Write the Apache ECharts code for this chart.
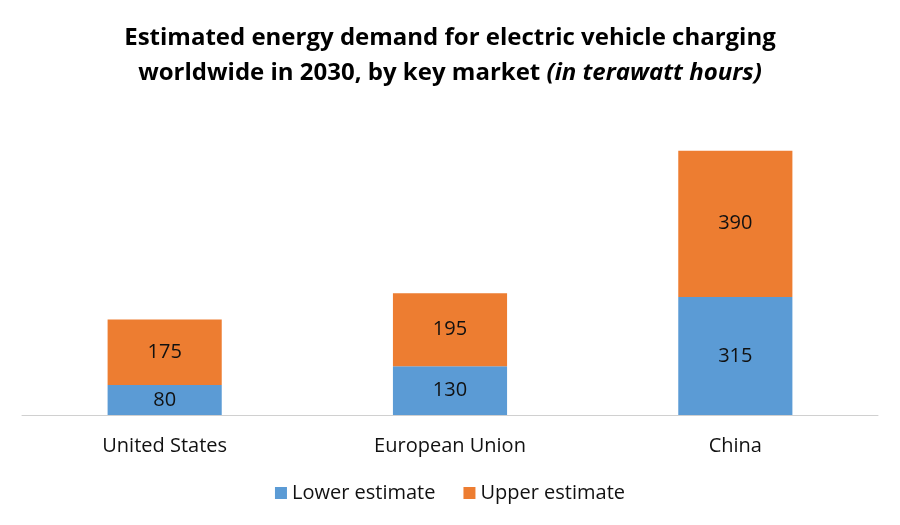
<!DOCTYPE html>
<html><head><meta charset="utf-8">
<script src="https://cdn.jsdelivr.net/npm/echarts@6/dist/echarts.min.js"></script>
<style>html,body{margin:0;padding:0;background:#fff}#c{width:900px;height:525px}</style>
</head><body><div id="c"></div>
<script>
const categories = ['United States', 'European Union', 'China'];
const lowerEstimate = [80, 130, 315];
const upperEstimate = [175, 195, 390];
const seriesNames = ['Lower estimate', 'Upper estimate'];

const FONT = '"Open Sans", "Noto Sans", sans-serif';
const chart = echarts.init(document.getElementById('c'));
chart.setOption({
  backgroundColor: '#fff',
  animation: false,
  textStyle: { fontFamily: FONT },
  title: {
    left: 'center', top: 16,
    text: '{b|Estimated energy demand for electric vehicle charging}\n{b|worldwide in 2030, by key market }{i|(in terawatt hours)}',
    textStyle: {
      rich: {
        b: { fontFamily: FONT, fontWeight: 'bold', fontSize: 24, color: '#000', lineHeight: 35 },
        i: { fontFamily: FONT, fontWeight: 'bold', fontStyle: 'italic', fontSize: 24, color: '#000', lineHeight: 35 }
      }
    }
  },
  legend: {
    bottom: 17, left: 'center',
    itemWidth: 12, itemHeight: 12, itemGap: 28,
    icon: 'rect',
    textStyle: { fontFamily: FONT, fontSize: 20, color: '#111' },
    data: seriesNames
  },
  grid: { left: 22, right: 22, top: 115, bottom: 110, containLabel: false },
  xAxis: {
    type: 'category', data: categories,
    axisLine: { lineStyle: { color: '#d0d0d0' } },
    axisTick: { show: false },
    axisLabel: { fontFamily: FONT, fontSize: 20, color: '#111', margin: 21 }
  },
  yAxis: { type: 'value', min: 0, max: 800, show: false, splitLine: { show: false } },
  series: [
    {
      name: seriesNames[0], type: 'bar', stack: 't', data: lowerEstimate,
      barWidth: '40%', itemStyle: { color: '#5b9bd5' },
      label: { show: true, position: 'inside', fontFamily: FONT, fontSize: 20, color: '#111' }
    },
    {
      name: seriesNames[1], type: 'bar', stack: 't', data: upperEstimate,
      barWidth: '40%', itemStyle: { color: '#ed7d31' },
      label: { show: true, position: 'inside', fontFamily: FONT, fontSize: 20, color: '#111' }
    }
  ]
});
</script></body></html>
